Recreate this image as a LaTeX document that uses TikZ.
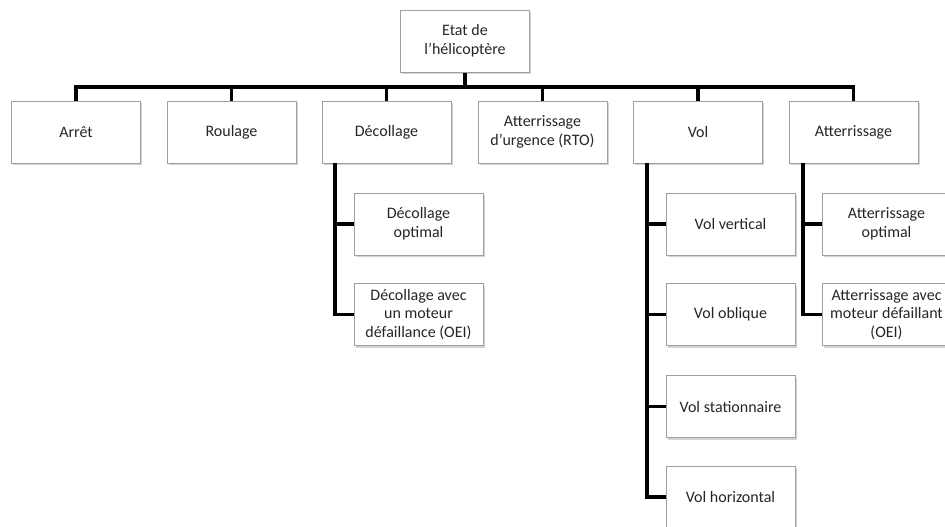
\documentclass[tikz,border=0pt]{standalone}
\usepackage{fontspec}
\setmainfont{Carlito}
\usetikzlibrary{shadows}

\begin{document}
\begin{tikzpicture}[x=0.75pt, y=-0.75pt]
	\tikzstyle {etat} = [draw = gray!75, fill = white, line width = 0.75pt, minimum width = 96.75pt, minimum height = 46.5pt, inner sep = 1pt, align = center, text = black!85, font = \fontsize{12}{14}\selectfont, drop shadow = {opacity = 0.35, shadow xshift = 1.2pt, shadow yshift = -1.5pt}];
	\tikzstyle {lien} = [line width = 2.4pt, black];
	\useasboundingbox (0, 0) rectangle (945, 526);
	% racine
	\node[etat] (racine) at (465, 41) {Etat de\\l’hélicoptère};
	% premier niveau
	\foreach \nodename/\x/\texte in {arret/76/Arrêt, roulage/231.5/Roulage, decol/386.5/Décollage, rto/542.5/{Atterrissage\\d’urgence (RTO)}, vol/698/Vol, atter/853.5/Atterrissage} {
			\node[etat] (\nodename) at (\x, 132) {\texte};
		}
	% sous-etats
	\node[etat] (decolopt) at (418.5, 224) {Décollage\\optimal};
	\node[etat] (decoloei) at (418.5, 314.5) {Décollage avec\\un moteur\\défaillance (OEI)};
	\foreach \nodename/\y/\texte in {volvert/224/Vol vertical, volobl/314.5/Vol oblique, volstat/406.5/Vol stationnaire, volhor/497/Vol horizontal} {
			\node[etat] (\nodename) at (730.5, \y) {\texte};
		}
	\node[etat] (atteropt) at (886.5, 224) {Atterrissage\\optimal};
	\node[etat] (atteroei) at (886.5, 314.5) {Atterrissage avec\\moteur défaillant\\(OEI)};
	% liens
	\coordinate (bus) at (0, 87);
	\draw[lien] (racine.south) -- (racine.south |- bus);
	\draw[lien] (arret.north) -- (arret.north |- bus) -- (atter.north |- bus) -- (atter.north);
	\foreach \nodename in {roulage, decol, rto, vol} {
			\draw[lien] (\nodename.north) -- (\nodename.north |- bus);
		}
	\coordinate (decolaxe) at (335, 163);
	\coordinate (volaxe) at (647, 163);
	\coordinate (atteraxe) at (803, 163);
	\foreach \axe/\enfant in {decolaxe/decolopt, decolaxe/decoloei, volaxe/volvert, volaxe/volobl, volaxe/volstat, volaxe/volhor, atteraxe/atteropt, atteraxe/atteroei} {
			\draw[lien] (\axe) |- (\enfant.west);
		}
\end{tikzpicture}
\end{document}
